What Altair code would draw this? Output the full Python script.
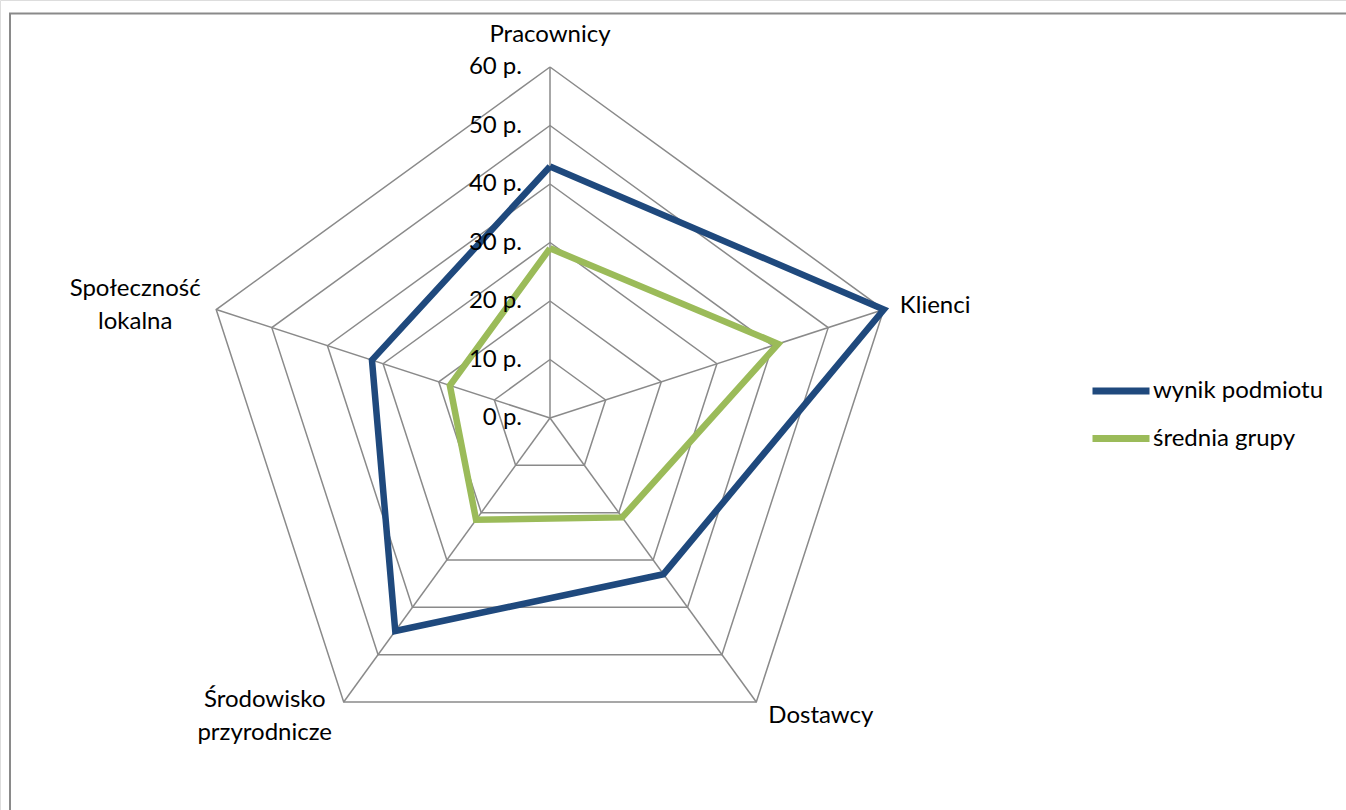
import altair as alt
import pandas as pd

# ---- values ---------------------------------------------------------------
categories = ["Pracownicy", "Klienci", "Dostawcy", "Środowisko przyrodnicze", "Społeczność lokalna"]
wynik_podmiotu = [43, 60, 33, 45, 32]
srednia_grupy = [29, 41, 21, 21.5, 18]
series_names = ["wynik podmiotu", "średnia grupy"]
levels = [0, 10, 20, 30, 40, 50, 60]
level_labels = ["0 p.", "10 p.", "20 p.", "30 p.", "40 p.", "50 p.", "60 p."]

# ---- styling --------------------------------------------------------------
series_colors = ["#1F497D", "#9BBB59"]
grid_color = "#8a8a8a"
font = "Lato"
font_size = 24
max_level = levels[-1]
n = len(categories)

# ---- tables built from the values ------------------------------------------
series_rows = []
for name, vals in zip(series_names, [wynik_podmiotu, srednia_grupy]):
    for k in range(n + 1):  # repeat the first spoke to close the polygon
        series_rows.append({"series": name, "axis": k % n, "order": k, "r": vals[k % n]})
series_df = pd.DataFrame(series_rows)

grid_df = pd.DataFrame(
    [{"level": lv, "axis": k % n, "order": k, "r": lv} for lv in levels[1:] for k in range(n + 1)]
)
spoke_df = pd.DataFrame({"axis": list(range(n)), "category": categories, "r": [max_level] * n})
tick_df = pd.DataFrame({"axis": [0] * len(levels), "r": levels, "label": level_labels})


def polar(chart):
    """Turn (axis index, radius) into cartesian coordinates, first spoke pointing up."""
    return chart.transform_calculate(
        angle=f"datum.axis * 2 * PI / {n}",
    ).transform_calculate(
        px="datum.r * sin(datum.angle)",
        py="datum.r * cos(datum.angle)",
        zero="0",
    )


# equal units on both axes, centre of the web at (550, 418) px
unit = 351 / max_level
x_scale = alt.Scale(domain=[-550 / unit, (1346 - 550) / unit], nice=False, zero=False)
y_scale = alt.Scale(domain=[-(810 - 418) / unit, 418 / unit], nice=False, zero=False)
X = lambda f: alt.X(f, type="quantitative", scale=x_scale, axis=None)
Y = lambda f: alt.Y(f, type="quantitative", scale=y_scale, axis=None)

grid = polar(alt.Chart(grid_df)).mark_line(color=grid_color, strokeWidth=1.5).encode(
    x=X("px"), y=Y("py"), detail="level:N", order="order:Q"
)

spokes = polar(alt.Chart(spoke_df)).mark_rule(color=grid_color, strokeWidth=1.5).encode(
    x=X("zero"), y=Y("zero"), x2="px:Q", y2="py:Q"
)

lines = polar(alt.Chart(series_df)).mark_line(strokeWidth=6.5, strokeJoin="miter").encode(
    x=X("px"),
    y=Y("py"),
    order="order:Q",
    color=alt.Color(
        "series:N",
        scale=alt.Scale(domain=series_names, range=series_colors),
        legend=alt.Legend(
            title=None,
            orient="none",
            legendX=1089,
            legendY=359,
            symbolType="stroke",
            symbolSize=57 * 57,
            symbolStrokeWidth=7,
            labelFont=font,
            labelFontSize=font_size,
            labelColor="#000000",
            labelOffset=0,
            labelLimit=400,
            rowPadding=1.5,
            padding=0,
        ),
    ),
)

ticks = polar(alt.Chart(tick_df)).mark_text(
    align="right", baseline="middle", dx=-28, fontSize=font_size, font=font, color="#000000"
).encode(x=X("px"), y=Y("py"), text="label:N")

# category names sit just outside the outer ring, each with its own offset
label_style = {
    "Pracownicy": dict(align="center", dx=0, dy=-25),
    "Klienci": dict(align="left", dx=16, dy=3.5),
    "Dostawcy": dict(align="left", dx=12, dy=21),
    "Środowisko przyrodnicze": dict(align="center", dx=-79, dy=5),
    "Społeczność lokalna": dict(align="center", dx=-81, dy=-13.5),
}
label_lines = {
    "Środowisko przyrodnicze": ["Środowisko", "przyrodnicze"],
    "Społeczność lokalna": ["Społeczność", "lokalna"],
}
cat_labels = []
for i, cat in enumerate(categories):
    one = spoke_df[spoke_df["category"] == cat].copy()
    text = label_lines.get(cat, cat)
    cat_labels.append(
        polar(alt.Chart(one))
        .mark_text(
            baseline="alphabetic", fontSize=font_size, font=font, color="#000000",
            lineHeight=33, **label_style[cat]
        )
        .encode(x=X("px"), y=Y("py"), text=alt.value(text))
    )

frame = alt.layer(
    alt.Chart(pd.DataFrame({"k": [0]})).mark_rule(color=grid_color, strokeWidth=2).encode(
        x=alt.value(10), y=alt.value(13.5), y2=alt.value(812)
    ),
    alt.Chart(pd.DataFrame({"k": [0]})).mark_rule(color=grid_color, strokeWidth=2).encode(
        x=alt.value(9), x2=alt.value(1350), y=alt.value(13.5)
    ),
)

chart = (
    alt.layer(frame, grid, spokes, lines, ticks, *cat_labels)
    .properties(width=1346, height=810, padding=0, autosize=alt.AutoSizeParams(type="none"))
    .configure_view(stroke=None)
    .configure(background="#ffffff")
)

chart.save("out.html", embed_options={"renderer": "svg", "actions": False})
